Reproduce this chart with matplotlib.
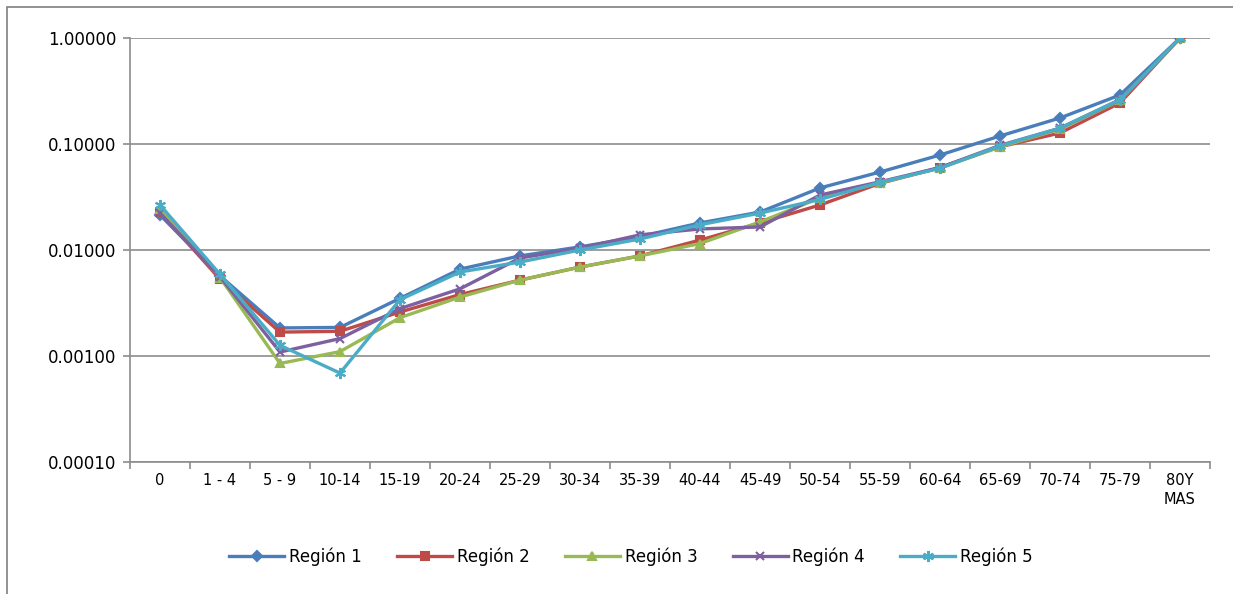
import numpy as np
import matplotlib
matplotlib.use("Agg")
import matplotlib.pyplot as plt
from matplotlib.patches import Rectangle
from matplotlib.ticker import FixedLocator, NullLocator

grupos = ["0", "1 - 4", "5 - 9", "10-14", "15-19", "20-24", "25-29", "30-34",
          "35-39", "40-44", "45-49", "50-54", "55-59", "60-64", "65-69",
          "70-74", "75-79", "80Y\nMAS"]

region1 = [0.0214, 0.0057, 0.00184, 0.00186, 0.0035, 0.0066, 0.0088, 0.0107,
           0.0134, 0.0180, 0.0228, 0.0385, 0.0544, 0.0787, 0.119, 0.176, 0.290, 1.0]
region2 = [0.0228, 0.0053, 0.00168, 0.00171, 0.0026, 0.0038, 0.0052, 0.0069,
           0.0088, 0.0124, 0.0180, 0.0266, 0.0425, 0.0600, 0.094, 0.127, 0.244, 1.0]
region3 = [0.0245, 0.0055, 0.00085, 0.00110, 0.0023, 0.0036, 0.0052, 0.0069,
           0.0088, 0.0115, 0.0184, 0.0310, 0.0430, 0.0594, 0.094, 0.138, 0.258, 1.0]
region4 = [0.0223, 0.0056, 0.00109, 0.00146, 0.0028, 0.0043, 0.0084, 0.0104,
           0.0139, 0.0158, 0.0165, 0.0330, 0.0440, 0.0600, 0.097, 0.141, 0.262, 1.0]
region5 = [0.0266, 0.0059, 0.00126, 0.00069, 0.0034, 0.0062, 0.0077, 0.0100,
           0.0127, 0.0173, 0.0223, 0.0300, 0.0435, 0.0590, 0.096, 0.141, 0.262, 1.0]

series = [
    ("Región 1", region1, "#4A7EBB", "D", 5),
    ("Región 2", region2, "#BE4B48", "s", 6),
    ("Región 3", region3, "#98B954", "^", 6),
    ("Región 4", region4, "#7D60A0", "x", 6),
    ("Región 5", region5, "#4BACC6", (6, 2, 0), 8),
]

fig = plt.figure(figsize=(12.33, 5.94), dpi=100)
ax = fig.add_axes([130 / 1233, 1 - 462 / 594, 1080 / 1233, 424 / 594])

x = np.arange(len(grupos))
for name, vals, col, mk, ms in series:
    ax.plot(x, vals, color=col, lw=2.4, marker=mk, markersize=ms,
            markeredgecolor=col, markerfacecolor=col, markeredgewidth=1.5, label=name)

ax.set_yscale("log")
ax.set_ylim(0.0001, 1.0)
ax.set_xlim(-0.5, len(grupos) - 0.5)
ax.yaxis.set_major_locator(FixedLocator([0.0001, 0.001, 0.01, 0.1, 1.0]))
ax.yaxis.set_minor_locator(NullLocator())
ax.set_yticklabels(["%.5f" % v for v in [0.0001, 0.001, 0.01, 0.1, 1.0]])
ax.grid(axis="y", color="#8c8c8c", lw=1.2)
ax.set_axisbelow(True)

ax.set_xticks(x)
ax.set_xticklabels(grupos, fontsize=10.5, linespacing=1.3)
ax.set_xticks(np.arange(len(grupos) + 1) - 0.5, minor=True)
ax.tick_params(axis="x", which="major", length=0, pad=8)
ax.tick_params(axis="x", which="minor", length=5, color="#8c8c8c", width=1.2)
ax.tick_params(axis="y", length=5, color="#8c8c8c", width=1.2, labelsize=12, pad=5)

for s in ["top", "right"]:
    ax.spines[s].set_visible(False)
for s in ["left", "bottom"]:
    ax.spines[s].set_color("#8c8c8c")
    ax.spines[s].set_linewidth(1.2)

leg = fig.legend(loc="center", bbox_to_anchor=(631 / 1233, 1 - 557 / 594), ncol=5,
                 frameon=False, fontsize=12, handlelength=3.3, handletextpad=0.3,
                 columnspacing=2.1)

# outer chart border
fig.patches.append(Rectangle((7 / 1233, -0.1), 1.2, 1 - 7 / 594 + 0.1,
                             transform=fig.transFigure, fill=False,
                             edgecolor="#7f7f7f", lw=1.2))

fig.savefig("out.png", dpi=100)
